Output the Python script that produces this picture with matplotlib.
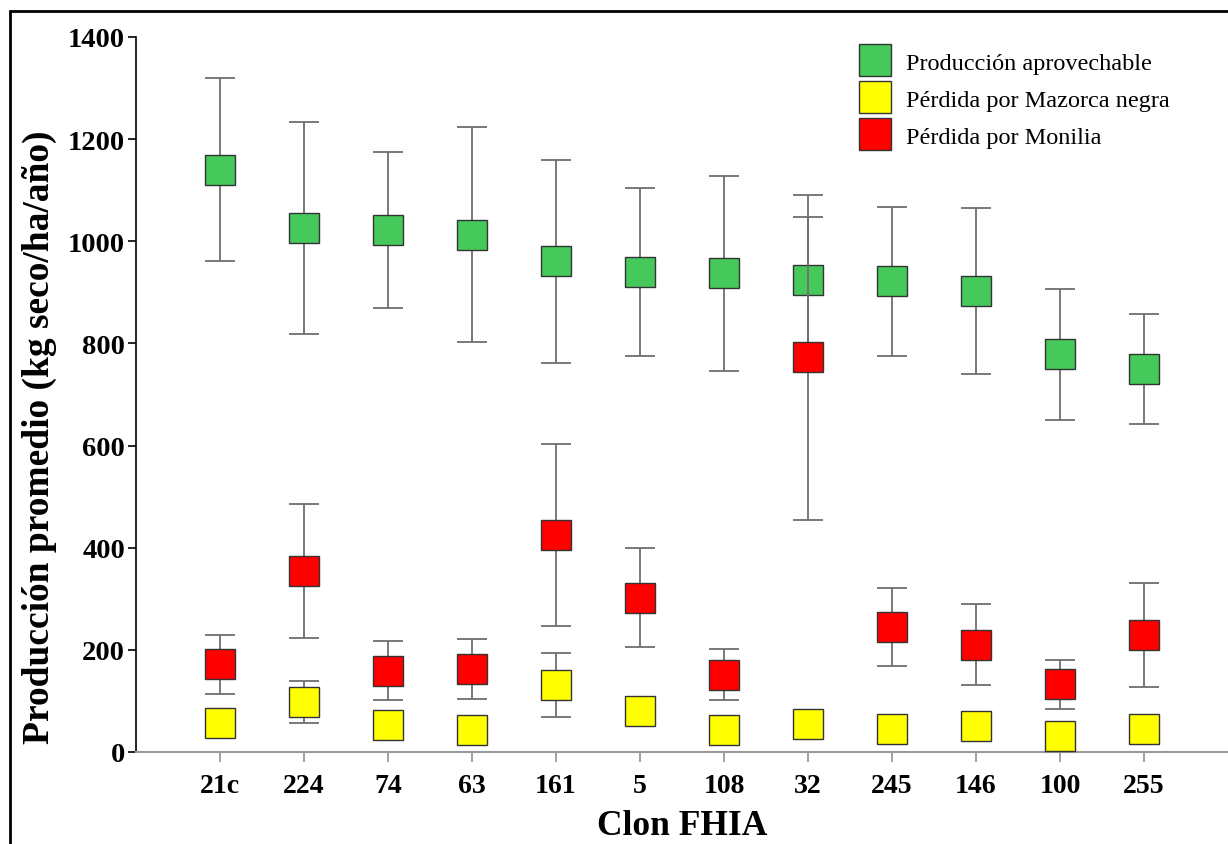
import matplotlib
matplotlib.use("Agg")
import matplotlib.pyplot as plt
from matplotlib.lines import Line2D
from matplotlib.patches import Rectangle

plt.rcParams['font.family'] = ['Liberation Serif', 'DejaVu Serif']

clones = ['21c', '224', '74', '63', '161', '5', '108', '32', '245', '146', '100', '255']

# producción aprovechable (media, desviación)
aprov = [1140, 1026, 1022, 1013, 961, 940, 937, 924, 922, 903, 779, 750]
aprov_sd = [179, 208, 152, 210, 199, 164, 191, 124, 146, 163, 128, 108]

# pérdida por mazorca negra
mazorca = [57, 98, 53, 43, 131, 80, 43, 55, 46, 51, 32, 45]
mazorca_sd = [25, 41, 25, 20, 63, 25, 20, 22, 20, 22, 18, 20]

# pérdida por monilia
monilia = [172, 355, 159, 163, 425, 302, 151, 773, 245, 210, 133, 229]
monilia_sd = [58, 131, 58, 59, 179, 97, 50, 318, 77, 79, 48, 101]

series = [
    ('Producción aprovechable', aprov, aprov_sd, '#45c95a'),
    ('Pérdida por Mazorca negra', mazorca, mazorca_sd, '#ffff00'),
    ('Pérdida por Monilia', monilia, monilia_sd, '#ff0000'),
]

fig = plt.figure(figsize=(12.28, 8.45), dpi=100)
ax = fig.add_axes([136 / 1228, 1 - 753 / 845, 1 - 136 / 1228, (753 - 38) / 845])

x = list(range(len(clones)))
handles = []
for i, (lab, vals, sd, col) in enumerate(series):
    ax.errorbar(x, vals, yerr=sd, fmt='none', ecolor='#6e6e6e', elinewidth=1.3,
                capsize=10.8, capthick=1.3, zorder=2 + i)
    ax.plot(x, vals, ls='', marker='s', ms=21.5, mfc=col, mec='#333333', mew=1.0,
            zorder=2.5 + i)
    handles.append(Line2D([], [], ls='', marker='s', ms=23, mfc=col, mec='#333333',
                          mew=1.0, label=lab))

ax.set_xlim(-1, 12)
ax.set_ylim(0, 1400)
ax.set_xticks(x)
ax.set_xticklabels(clones)
ax.set_yticks(range(0, 1401, 200))

for s in ['top', 'right']:
    ax.spines[s].set_visible(False)
ax.spines['bottom'].set_color('#9a9a9a')
ax.spines['bottom'].set_linewidth(1.5)
ax.spines['left'].set_linewidth(1.2)
ax.tick_params(axis='x', colors='#9a9a9a', length=7, width=1.3, labelcolor='black',
               labelsize=20, pad=8)
ax.tick_params(axis='y', length=6, width=1.2, labelsize=20.5, pad=2)
for t in ax.get_xticklabels() + ax.get_yticklabels():
    t.set_fontweight('bold')

ax.set_xlabel('Clon FHIA', fontsize=25.5, fontweight='bold', labelpad=8)
ax.set_ylabel('Producción promedio (kg seco/ha/año)', fontsize=27, fontweight='bold')
ax.yaxis.set_label_coords(-0.072, 0.442)

leg = ax.legend(handles=handles, loc='upper left', bbox_to_anchor=(848 / 1228, 1 - 43 / 845),
                bbox_transform=fig.transFigure, frameon=False, fontsize=17.5,
                labelspacing=0.62, handletextpad=0.6, handlelength=1.4, borderaxespad=0)

# marco exterior
fig.patches.append(Rectangle((10 / 1228, -0.05), 1.1, 1.05 - 12 / 845,
                             transform=fig.transFigure, fill=False, ec='black', lw=2.0))

fig.savefig('out.png', dpi=100)
